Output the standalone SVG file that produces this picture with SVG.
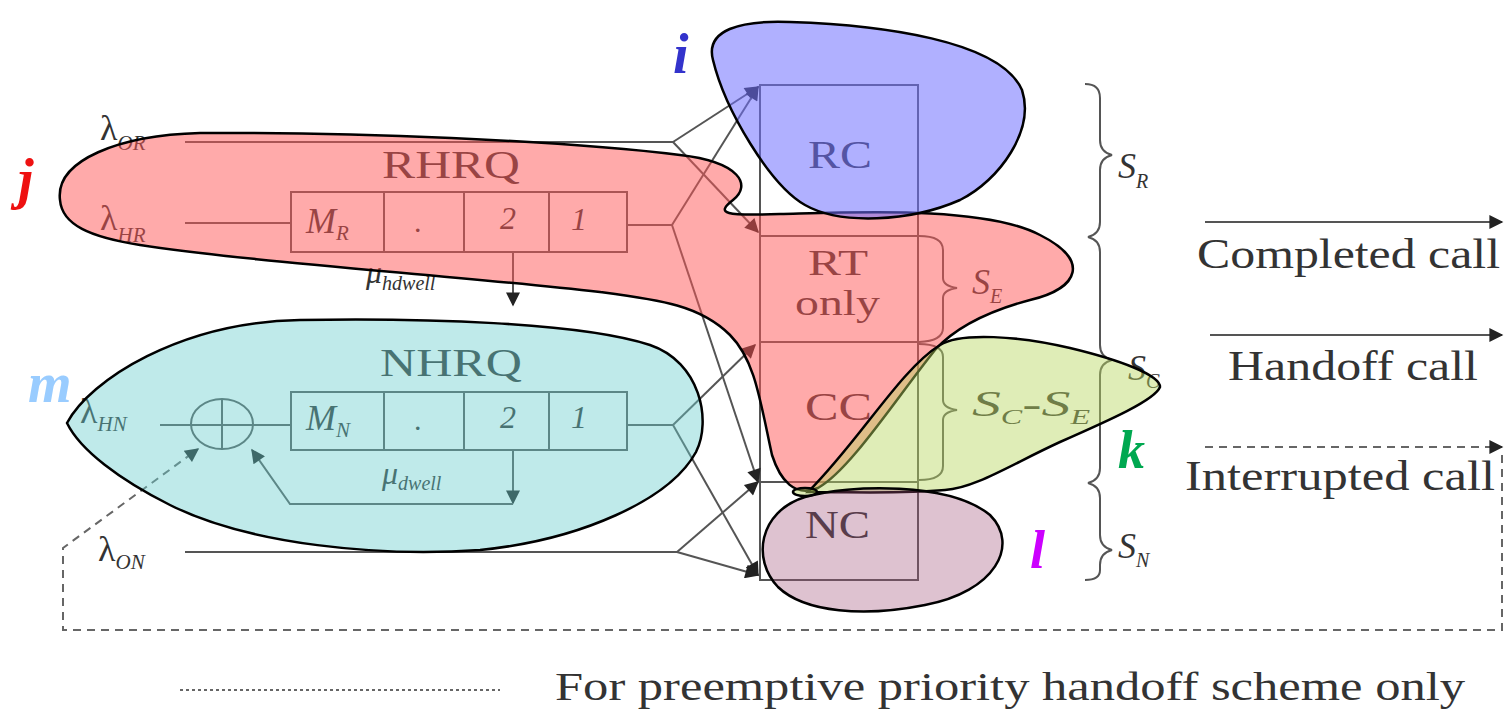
<svg xmlns="http://www.w3.org/2000/svg" width="1508" height="709" viewBox="0 0 1508 709">
<defs>
<marker id="ah" viewBox="0 0 10 10" refX="9" refY="5" markerUnits="userSpaceOnUse" markerWidth="18" markerHeight="14" orient="auto">
<path d="M0,0 L10,5 L0,10 Z" fill="#222"/>
</marker>
</defs>
<style>
.ln{stroke:#555;stroke-width:2;fill:none}
.box{stroke:#555;stroke-width:2;fill:none}
.dash{stroke:#666;stroke-width:2;fill:none;stroke-dasharray:8 6}
.dot{stroke:#666;stroke-width:2;fill:none;stroke-dasharray:3 3}
.t{font-family:'Liberation Serif','Times New Roman','DejaVu Serif',serif;fill:#333}
.it{font-family:'Liberation Serif','Times New Roman','DejaVu Serif',serif;font-style:italic;fill:#333}
.blob{stroke:#000;stroke-width:2.5}
.lab{font-family:'Liberation Serif','Times New Roman','DejaVu Serif',serif;font-style:italic;font-weight:bold}
</style>
<rect width="1508" height="709" fill="#fff"/>

<g id="rhrq">
<text class="t" x="382" y="178" font-size="41" textLength="138" lengthAdjust="spacingAndGlyphs">RHRQ</text>
<rect class="box" x="291" y="192" width="336" height="60"/>
<line class="box" x1="384" y1="192" x2="384" y2="252"/>
<line class="box" x1="464" y1="192" x2="464" y2="252"/>
<line class="box" x1="549" y1="192" x2="549" y2="252"/>
<text class="it" x="306" y="233" font-size="36">M<tspan font-size="21" dy="7">R</tspan></text>
<text class="t" x="414" y="232" font-size="30">.</text>
<text class="it" x="500" y="229" font-size="32">2</text>
<text class="it" x="571" y="230" font-size="32">1</text>
<text class="it" x="366" y="283" font-size="32">μ<tspan font-size="20" dy="7">hdwell</tspan></text>
</g>

<g id="nhrq">
<text class="t" x="380" y="376" font-size="41" textLength="142" lengthAdjust="spacingAndGlyphs">NHRQ</text>
<rect class="box" x="291" y="392" width="336" height="58"/>
<line class="box" x1="384" y1="392" x2="384" y2="450"/>
<line class="box" x1="464" y1="392" x2="464" y2="450"/>
<line class="box" x1="549" y1="392" x2="549" y2="450"/>
<text class="it" x="306" y="430" font-size="36">M<tspan font-size="21" dy="7">N</tspan></text>
<text class="t" x="414" y="430" font-size="30">.</text>
<text class="it" x="500" y="428" font-size="32">2</text>
<text class="it" x="571" y="428" font-size="32">1</text>
<text class="it" x="382" y="484" font-size="32">μ<tspan font-size="20" dy="6">dwell</tspan></text>
<ellipse class="box" cx="222" cy="424" rx="31" ry="25"/>
<line class="box" x1="222" y1="399" x2="222" y2="450"/>
</g>

<g id="inputs">
<text class="t" x="100" y="140" font-size="36">λ<tspan class="it" font-size="21" dy="10">OR</tspan></text>
<text class="t" x="100" y="230" font-size="36">λ<tspan class="it" font-size="21" dy="12">HR</tspan></text>
<text class="t" x="80" y="423" font-size="36">λ<tspan class="it" font-size="21" dy="8">HN</tspan></text>
<text class="t" x="98" y="561" font-size="36">λ<tspan class="it" font-size="21" dy="8">ON</tspan></text>
</g>

<g id="channels">
<rect class="box" x="760" y="85" width="158" height="495"/>
<line class="box" x1="760" y1="236" x2="918" y2="236"/>
<line class="box" x1="760" y1="342" x2="918" y2="342"/>
<line class="box" x1="760" y1="482" x2="918" y2="482"/>
<text class="t" x="808" y="168" font-size="40" textLength="64" lengthAdjust="spacingAndGlyphs">RC</text>
<text class="t" x="808" y="275" font-size="36" textLength="60" lengthAdjust="spacingAndGlyphs">RT</text>
<text class="t" x="795" y="315" font-size="36" textLength="85" lengthAdjust="spacingAndGlyphs">only</text>
<text class="t" x="805" y="420" font-size="40" textLength="67" lengthAdjust="spacingAndGlyphs">CC</text>
<text class="t" x="805" y="538" font-size="40" textLength="65" lengthAdjust="spacingAndGlyphs">NC</text>
</g>

<g id="braces">
<path class="ln" d="M919,236 Q943,236 943,250 L943,278 Q943,286 957,288 Q943,290 943,298 L943,328 Q943,341 919,342"/>
<path class="ln" d="M919,344 Q943,344 943,357 L943,400 Q943,408 957,410 Q943,412 943,420 L943,466 Q943,480 919,480"/>
<text class="it" x="972" y="294" font-size="36">S<tspan font-size="20" dy="9">E</tspan></text>
<text class="it" x="972" y="416" font-size="36" textLength="118" lengthAdjust="spacingAndGlyphs">S<tspan font-size="20" dy="8">C</tspan><tspan dy="-8">-S</tspan><tspan font-size="20" dy="8">E</tspan></text>
<path class="ln" d="M1085,84 Q1100,84 1100,98 L1100,140 Q1100,152 1112,155 Q1100,158 1100,170 L1100,222 Q1100,234 1088,237 Q1100,240 1100,252 L1100,345 Q1100,357 1112,360 Q1100,363 1100,375 L1100,468 Q1100,480 1088,483 Q1100,486 1100,498 L1100,535 Q1100,547 1112,550 Q1100,553 1100,565 L1100,570 Q1100,580 1085,580"/>
<text class="it" x="1118" y="178" font-size="36">S<tspan font-size="20" dy="10">R</tspan></text>
<text class="it" x="1128" y="380" font-size="36">S<tspan font-size="20" dy="8">C</tspan></text>
<text class="it" x="1118" y="558" font-size="36">S<tspan font-size="20" dy="9">N</tspan></text>
</g>

<g id="legend-calls">
<line class="ln" x1="1205" y1="222" x2="1502" y2="222" marker-end="url(#ah)"/>
<text class="t" x="1197" y="268" font-size="42" textLength="303" lengthAdjust="spacingAndGlyphs">Completed call</text>
<line class="ln" x1="1210" y1="335" x2="1502" y2="335" marker-end="url(#ah)"/>
<text class="t" x="1228" y="380" font-size="42" textLength="250" lengthAdjust="spacingAndGlyphs">Handoff call</text>
<line class="dash" x1="1205" y1="447" x2="1502" y2="447" marker-end="url(#ah)"/>
<text class="t" x="1185" y="490" font-size="42" textLength="310" lengthAdjust="spacingAndGlyphs">Interrupted call</text>
<line class="dot" x1="180" y1="690" x2="500" y2="690"/>
<text class="t" x="555" y="700" font-size="40" textLength="910" lengthAdjust="spacingAndGlyphs">For preemptive priority handoff scheme only</text>
</g>

<g id="connectors">
<line class="ln" x1="185" y1="142" x2="673" y2="142"/>
<line class="ln" x1="673" y1="142" x2="758" y2="87" marker-end="url(#ah)"/>
<line class="ln" x1="673" y1="142" x2="758" y2="232" marker-end="url(#ah)"/>
<line class="ln" x1="185" y1="223" x2="291" y2="223"/>
<line class="ln" x1="627" y1="225" x2="672" y2="225"/>
<line class="ln" x1="672" y1="225" x2="758" y2="87" marker-end="url(#ah)"/>
<line class="ln" x1="672" y1="225" x2="758" y2="482" marker-end="url(#ah)"/>
<line class="ln" x1="513" y1="252" x2="513" y2="305" marker-end="url(#ah)"/>
<line class="ln" x1="160" y1="425" x2="291" y2="425"/>
<line class="ln" x1="627" y1="425" x2="673" y2="425"/>
<line class="ln" x1="673" y1="425" x2="755" y2="345" marker-end="url(#ah)"/>
<line class="ln" x1="673" y1="425" x2="758" y2="575" marker-end="url(#ah)"/>
<line class="ln" x1="513" y1="450" x2="513" y2="503" marker-end="url(#ah)"/>
<polyline class="ln" points="513,504 290,504 252,450" marker-end="url(#ah)"/>
<line class="ln" x1="185" y1="552" x2="677" y2="552"/>
<line class="ln" x1="677" y1="552" x2="758" y2="482" marker-end="url(#ah)"/>
<line class="ln" x1="677" y1="552" x2="758" y2="575" marker-end="url(#ah)"/>
<polyline class="dash" points="1502,455 1502,630 63,630 63,548 198,449" marker-end="url(#ah)"/>
</g>

<g id="blob-j">
<path class="blob" fill="#ff5555" fill-opacity="0.5" d="M60,200 C55,160 120,135 200,133 C350,132 560,140 680,155 C740,162 752,185 733,200 C715,214 725,216 780,214 C860,212 985,206 1040,235 C1090,260 1080,288 1030,300 C985,312 955,328 935,350 C895,400 850,470 818,488 C795,498 780,480 772,455 C760,400 755,360 730,335 C700,305 660,300 600,292 C450,275 250,262 140,245 C90,237 62,225 60,200 Z"/>
</g>
<g id="blob-i">
<path class="blob" fill="#6f6fff" fill-opacity="0.55" d="M713,60 C705,30 740,20 790,22 C880,25 1000,40 1022,90 C1035,130 1000,180 960,200 C910,222 840,225 805,205 C770,185 725,110 713,60 Z"/>
</g>
<g id="blob-m">
<path class="blob" fill="#66cccc" fill-opacity="0.42" d="M67,423 C90,380 180,322 300,320 C420,318 580,322 650,345 C700,362 712,420 696,452 C670,500 580,540 480,550 C380,557 250,545 170,505 C120,480 80,450 67,423 Z"/>
</g>
<g id="blob-k">
<path class="blob" fill="#b8d860" fill-opacity="0.45" d="M808,492 C860,440 900,370 940,345 C960,332 1020,336 1070,348 C1120,360 1160,375 1160,387 C1155,400 1110,420 1060,442 C1010,465 975,488 945,490 C900,494 860,492 808,492 Z"/>
<ellipse class="blob" cx="805" cy="492" rx="12" ry="4" fill="#b8d860" fill-opacity="0.45" stroke-width="1.5"/>
</g>
<g id="blob-l">
<path class="blob" fill="#a05078" fill-opacity="0.35" d="M805,497 C850,484 950,482 990,515 C1020,545 995,592 925,605 C865,617 805,613 778,587 C752,560 758,512 805,497 Z"/>
</g>

<g id="letters">
<text class="lab" x="673" y="73" font-size="56" fill="#3333cc">i</text>
<text class="lab" x="18" y="198" font-size="56" fill="#ee1111">j</text>
<text class="lab" x="28" y="402" font-size="56" fill="#99ccff">m</text>
<text class="lab" x="1118" y="468" font-size="54" fill="#00a850">k</text>
<text class="lab" x="1030" y="568" font-size="54" fill="#cc00ff">l</text>
</g>
</svg>
